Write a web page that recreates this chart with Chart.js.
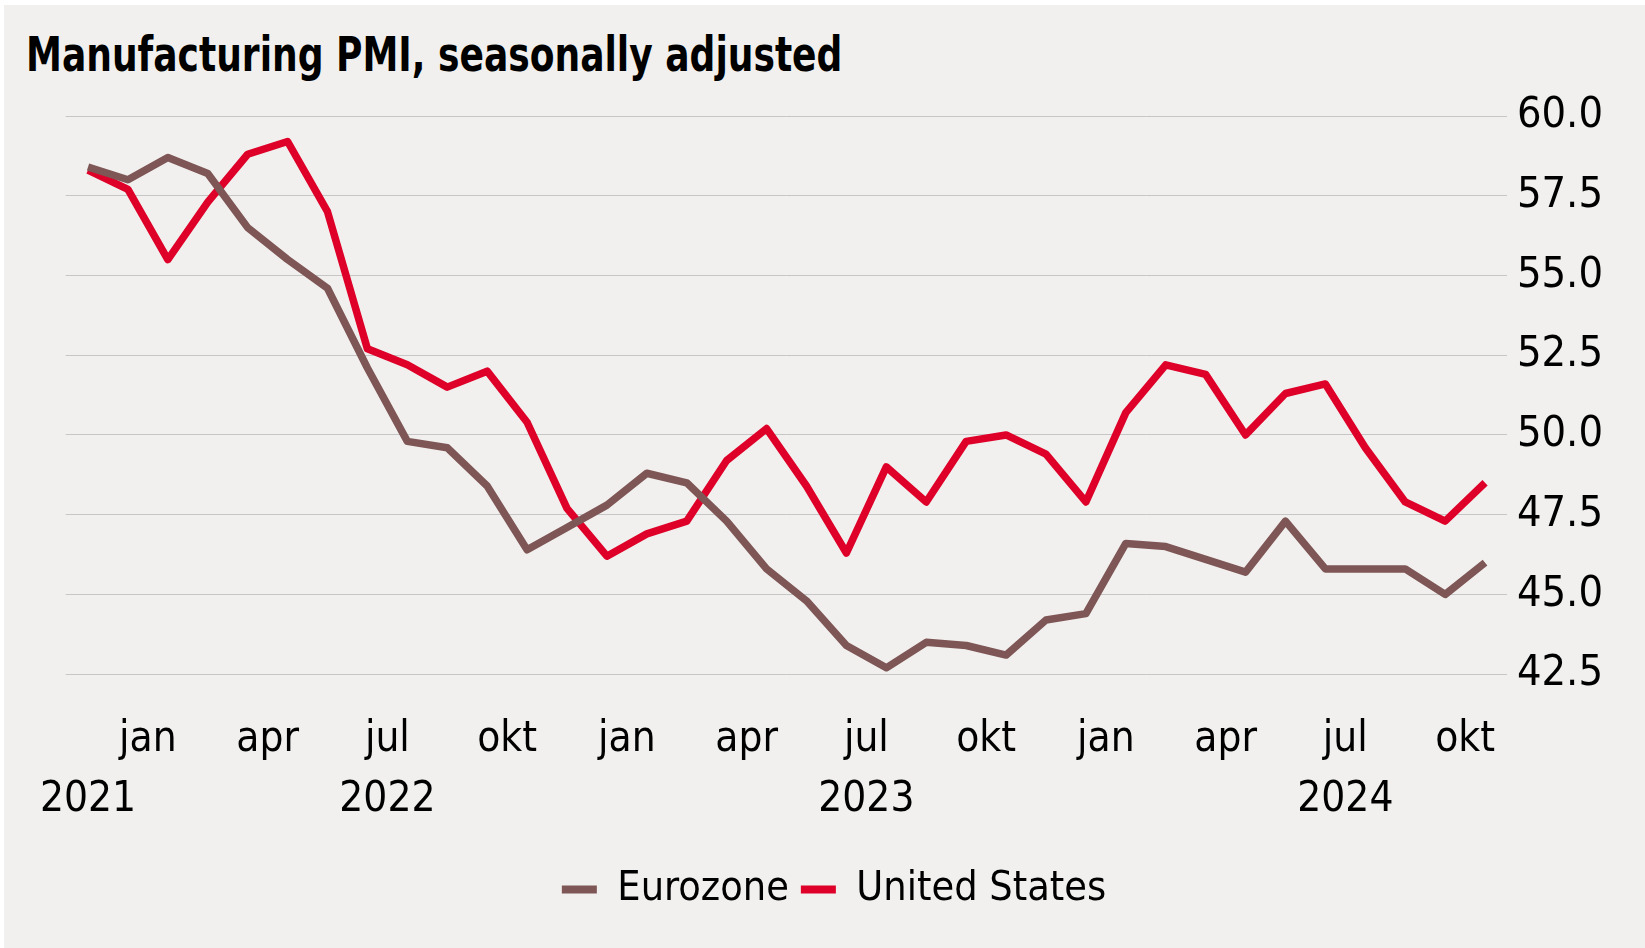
<!DOCTYPE html>
<html>
<head>
<meta charset="utf-8">
<title>Manufacturing PMI, seasonally adjusted</title>
<script src="https://cdn.jsdelivr.net/npm/chart.js@4.4.1/dist/chart.umd.min.js"></script>
<style>
  body { margin: 0; background: #fff; }
  #wrap { position: absolute; left: 4px; top: 5px; width: 1641px; height: 943px; background: #f1f0ee; }
  #title {
    position: absolute; left: 22px; top: 25px; margin: 0;
    font: bold 48px/48px 'DejaVu Sans Condensed', 'DejaVu Sans', sans-serif;
    color: #000; white-space: nowrap;
    transform: scaleX(0.835); transform-origin: 0 0;
  }
  canvas { position: absolute; left: 0; top: 0; }
</style>
</head>
<body>
<div id="wrap">
  <div id="title">Manufacturing PMI, seasonally adjusted</div>
  <canvas id="myChart" width="1641" height="943"></canvas>
</div>
<script>
// monthly data, nov 2021 - okt 2024
var months = [
  '2021-11', '2021-12',
  '2022-01', '2022-02', '2022-03', '2022-04', '2022-05', '2022-06',
  '2022-07', '2022-08', '2022-09', '2022-10', '2022-11', '2022-12',
  '2023-01', '2023-02', '2023-03', '2023-04', '2023-05', '2023-06',
  '2023-07', '2023-08', '2023-09', '2023-10', '2023-11', '2023-12',
  '2024-01', '2024-02', '2024-03', '2024-04', '2024-05', '2024-06',
  '2024-07', '2024-08', '2024-09', '2024-10'
];
var eurozone = [
  58.4, 58.0,
  58.7, 58.2, 56.5, 55.5, 54.6, 52.1,
  49.8, 49.6, 48.4, 46.4, 47.1, 47.8,
  48.8, 48.5, 47.3, 45.8, 44.8, 43.4,
  42.7, 43.5, 43.4, 43.1, 44.2, 44.4,
  46.6, 46.5, 46.1, 45.7, 47.3, 45.8,
  45.8, 45.8, 45.0, 46.0
];
var unitedStates = [
  58.3, 57.7,
  55.5, 57.3, 58.8, 59.2, 57.0, 52.7,
  52.2, 51.5, 52.0, 50.4, 47.7, 46.2,
  46.9, 47.3, 49.2, 50.2, 48.4, 46.3,
  49.0, 47.9, 49.8, 50.0, 49.4, 47.9,
  50.7, 52.2, 51.9, 50.0, 51.3, 51.6,
  49.6, 47.9, 47.3, 48.5
];

// x axis labels (norwegian month names)
var monthNames = ['jan', 'feb', 'mar', 'apr', 'mai', 'jun', 'jul', 'aug', 'sep', 'okt', 'nov', 'des'];
var yTicks = [42.5, 45.0, 47.5, 50.0, 52.5, 55.0, 57.5, 60.0];

var brown = '#7e5656';
var red = '#de0029';
var textFont = "'DejaVu Sans Condensed', 'DejaVu Sans', sans-serif";

// label positions: first year under first point, month names half a month
// before their month, year under each jul
var xTicks = [{ value: 0, label: ['', months[0].slice(0, 4)] }];
months.forEach(function(m, i) {
  var mm = parseInt(m.slice(5), 10);
  if (mm % 3 === 1) {
    var name = monthNames[mm - 1];
    xTicks.push({ value: i - 0.5, label: mm === 7 ? [name, m.slice(0, 4)] : name });
  }
});

function toPoints(values) {
  return values.map(function(v, i) {
    return { x: i, y: v };
  });
}

var ctx = document.getElementById('myChart').getContext('2d');
var myLineChart = new Chart(ctx, {
  type: 'line',
  data: {
    datasets: [
      {
        label: 'Eurozone',
        data: toPoints(eurozone),
        borderColor: brown,
        backgroundColor: brown,
        borderWidth: 7.5,
        borderJoinStyle: 'round',
        pointRadius: 0,
        tension: 0
      },
      {
        label: 'United States',
        data: toPoints(unitedStates),
        borderColor: red,
        backgroundColor: red,
        borderWidth: 7.5,
        borderJoinStyle: 'round',
        pointRadius: 0,
        tension: 0
      }
    ]
  },
  options: {
    responsive: false,
    animation: false,
    layout: {
      padding: { left: 61, right: 42, top: 111, bottom: 28 }
    },
    plugins: {
      legend: {
        position: 'bottom',
        labels: {
          boxWidth: 35,
          boxHeight: 8,
          padding: 12,
          color: '#000',
          font: { family: textFont, size: 41 },
          generateLabels: function(chart) {
            var items = Chart.defaults.plugins.legend.labels.generateLabels(chart);
            items.forEach(function(it) {
              it.lineWidth = 0;
              it.fillStyle = it.strokeStyle;
            });
            return items;
          }
        }
      },
      tooltip: { enabled: false }
    },
    scales: {
      x: {
        type: 'linear',
        min: -0.56,
        max: 35.55,
        grid: { display: false, drawTicks: false },
        border: { display: false },
        afterBuildTicks: function(scale) {
          scale.ticks = xTicks.map(function(t) { return { value: t.value }; });
        },
        afterFit: function(scale) {
          scale.height -= 9;
        },
        ticks: {
          autoSkip: false,
          maxRotation: 0,
          padding: 35,
          color: '#000',
          font: { family: textFont, size: 42, lineHeight: 1.45 },
          callback: function(value) {
            for (var i in xTicks) {
              if (xTicks[i].value === value) return xTicks[i].label;
            }
            return '';
          }
        }
      },
      y: {
        position: 'right',
        min: yTicks[0],
        max: yTicks[yTicks.length - 1],
        grid: { color: '#c6c6c6', lineWidth: 1, drawTicks: false },
        border: { display: false },
        afterBuildTicks: function(scale) {
          scale.ticks = yTicks.map(function(v) { return { value: v }; });
        },
        afterFit: function(scale) {
          scale.width = 96;
        },
        ticks: {
          padding: 10,
          crossAlign: 'far',
          color: '#000',
          font: { family: textFont, size: 43 },
          callback: function(value) {
            return value.toFixed(1);
          }
        }
      }
    }
  }
});
</script>
</body>
</html>
